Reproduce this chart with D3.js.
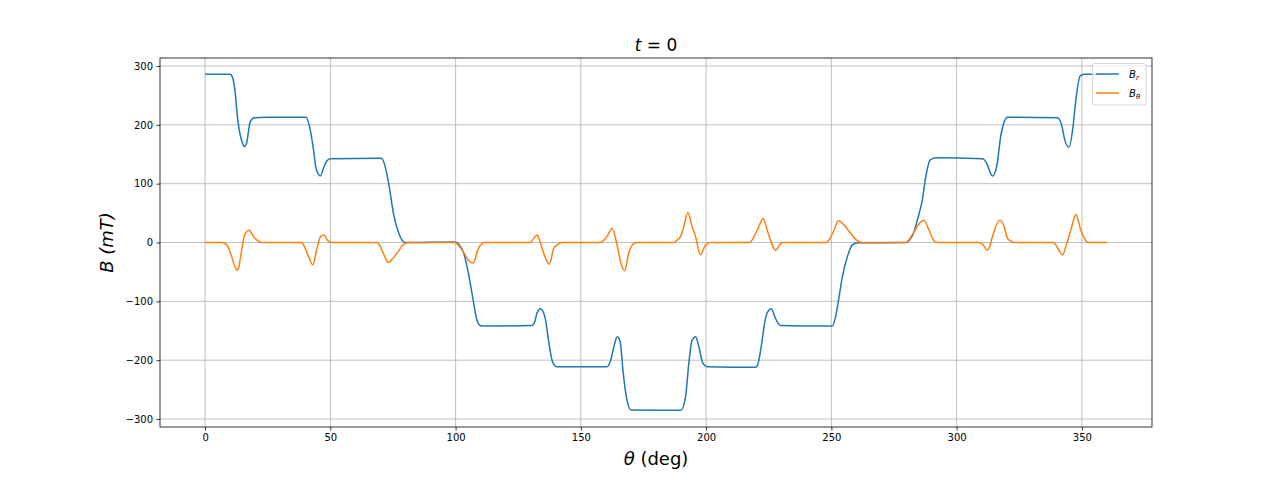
<!DOCTYPE html>
<html>
<head>
<meta charset="utf-8">
<script src="https://cdn.jsdelivr.net/npm/d3@7"></script>
<style>
body{margin:0;background:#fff;}
svg text{font-family:"DejaVu Sans",sans-serif;}
</style>
</head>
<body>
<svg id="chart" width="1280" height="480"></svg>
<script>
// Data
const thetaR = [0,10,11,12,12.9,14,15,15.6,16.5,18,19.6,25,40.3,41.7,43.3,44.2,45.2,46,47.5,48.5,50,70.3,71.9,73.3,75.3,77.3,79.3,80.5,99.5,100.5,101.8,103.1,105.1,107.1,108.5,109.5,110.5,130.5,131.5,132.5,134,135,135.8,137.1,138.5,139.3,140.2,160.4,161.7,163.3,164.5,165.2,165.8,166.8,168.4,170,190,191.8,193.1,194.4,195.8,197.1,198.5,199.5,200.5,219.7,220.4,222,223.7,225,226,227.7,229,229.7,250.4,251.7,253.1,254.4,256.4,258.4,260.4,279.7,281.7,283,284.3,286.3,287.7,289.4,291.7,310.3,312.3,313.3,314.3,316,317.6,319,320.3,340.3,341.9,343.2,344.9,346.3,347.6,349.3,350.9,360];
const Br = [286,286,280,255,214,183,168,163,168,205,212,213,213,197,157,128,116,113,129,138,142.5,143,129,100,47,16,1,0,1,0,-6,-16,-52,-100,-132,-140,-142,-141,-136,-120,-112.5,-118,-129,-166,-200,-208,-211,-211,-203,-175,-160,-163,-171,-217,-268,-284.7,-285,-262,-205,-166,-160,-177,-203,-209,-211,-212,-210,-177,-129,-115,-112.5,-129,-139,-141,-142,-126,-92,-58,-24,-4,-0.5,0,7,18,38,72,112,140,144,142.5,132,120,113,129,180,205,213,212,200,174,162,191,242,283,286,286];

const thetaT = [0,6.7,8.7,10.4,11.8,12.7,13.3,14.6,16,17.6,19.3,21.3,22.5,38.6,39.3,41.3,43,44.5,46.1,47.5,48.9,50.6,68.6,70,71.5,73,74.6,76.6,79.3,81.2,99.9,100.5,103.1,105.1,107.1,108.8,110.5,111.5,129.8,131.2,132.5,133.8,135.4,137.4,139.2,141.2,142.5,157.8,160.4,162.5,164.5,166,167.5,169.1,171.1,172.5,187.2,188.4,189.8,191.1,192.7,194.4,195.8,196.4,197.7,199.8,201.8,216.8,217.7,220.4,222.8,224.4,226.4,227.7,229.7,231,247.8,249,251,252.8,255,257.7,260.4,262,279.7,283,285,287,289,291,292.5,308.8,309.7,311,312.3,313.5,314.3,317.3,319,320.3,322.3,324,338.5,339.6,341,342.3,343.6,345.6,347.6,349.6,351.6,353,360];
const Bt = [0,0,-4,-21,-40,-47,-44,-13,15.6,21,10,2.5,0,0,-4,-24,-38,-13,10,12.7,4,0,0,-7,-22,-34,-29,-18,-3,0,0,-2,-16,-30,-35,-13,-2,0,0,7,12.7,0.5,-21,-37,-10,-2,0,0,10,24,-5,-35,-48,-18,-2,0,0,4,10,27,51,27,10,-1,-21,-4,0,0,1,21,41,21,-4,-13,-2,0,0,4,20,37,30,15.6,3,0,0,18,32,38,21,3,0,0,-1,-6,-13,-3,10,38,27,7,1,0,0,-4,-14,-21,-7,21,48,21,3,0,0];

const xTicks = [0,50,100,150,200,250,300,350];
const yTicks = [-300,-200,-100,0,100,200,300];
const seriesNames = ["r","θ"];
const colors = ["#1f77b4","#ff7f0e"];

const svg = d3.select("#chart");
const L = 160, R = 1152, T = 58, B = 427;
const x = d3.scaleLinear().domain([-18,378]).range([L,R]);
const y = d3.scaleLinear().domain([-313.55,313.55]).range([B,T]);

// grid
const g = svg.append("g");
g.selectAll(".gx").data(xTicks).enter().append("line")
  .attr("x1",d=>x(d)).attr("x2",d=>x(d)).attr("y1",T).attr("y2",B)
  .attr("stroke","#b0b0b0").attr("stroke-width",0.8);
g.selectAll(".gy").data(yTicks).enter().append("line")
  .attr("y1",d=>y(d)).attr("y2",d=>y(d)).attr("x1",L).attr("x2",R)
  .attr("stroke","#b0b0b0").attr("stroke-width",0.8);

// lines
const line = d3.line().x(d=>x(d[0])).y(d=>y(d[1])).curve(d3.curveMonotoneX);
const dR = thetaR.map((t,i)=>[t,Br[i]]);
const dT = thetaT.map((t,i)=>[t,Bt[i]]);
svg.append("path").attr("d",line(dR)).attr("fill","none").attr("stroke",colors[0]).attr("stroke-width",1.5).attr("stroke-linejoin","round");
svg.append("path").attr("d",line(dT)).attr("fill","none").attr("stroke",colors[1]).attr("stroke-width",1.5).attr("stroke-linejoin","round");

// axes
const xAxis = d3.axisBottom(x).tickValues(xTicks).tickSize(3.5).tickPadding(3.5);
const yAxis = d3.axisLeft(y).tickValues(yTicks).tickSize(3.5).tickPadding(3.5).tickFormat(d=>d<0?"\u2212"+Math.abs(d):d);
const gx = svg.append("g").attr("transform",`translate(0,${B})`).call(xAxis);
const gy = svg.append("g").attr("transform",`translate(${L},0)`).call(yAxis);
[gx,gy].forEach(a=>{
  a.select(".domain").remove();
  a.selectAll("line").attr("stroke","#000").attr("stroke-width",0.8);
  a.selectAll("text").attr("font-size",10).attr("fill","#000").attr("font-family","DejaVu Sans");
});
// spines
svg.append("rect").attr("x",L).attr("y",T).attr("width",R-L).attr("height",B-T)
  .attr("fill","none").attr("stroke","#000").attr("stroke-width",0.8);

// title
const title = svg.append("text").attr("x",(L+R)/2).attr("y",51).attr("text-anchor","middle").attr("font-size",17);
title.append("tspan").attr("font-style","italic").text("t");
title.append("tspan").text(" = 0");

// x label
const xl = svg.append("text").attr("x",(L+R)/2).attr("y",465).attr("text-anchor","middle").attr("font-size",18);
xl.append("tspan").attr("font-style","italic").text("θ");
xl.append("tspan").text(" (deg)");

// y label
svg.append("text").attr("transform",`translate(113,${(T+B)/2}) rotate(-90)`)
  .attr("text-anchor","middle").attr("font-size",18).attr("font-style","italic").text("B (mT)");

// legend
const lg = svg.append("g");
lg.append("rect").attr("x",1092.5).attr("y",63.5).attr("width",53.5).attr("height",41.5).attr("rx",2.5)
  .attr("fill","#fff").attr("fill-opacity",0.8).attr("stroke","#cccccc").attr("stroke-width",0.8);
seriesNames.forEach((n,i)=>{
  const yy = 74 + i*19;
  lg.append("line").attr("x1",1096).attr("x2",1119).attr("y1",yy).attr("y2",yy)
    .attr("stroke",colors[i]).attr("stroke-width",1.5);
  const t = lg.append("text").attr("x",1129).attr("y",yy+3.5).attr("font-size",10).attr("font-style","italic");
  t.append("tspan").text("B");
  t.append("tspan").attr("font-size",7).attr("dy",2).text(n);
});
</script>
</body>
</html>
